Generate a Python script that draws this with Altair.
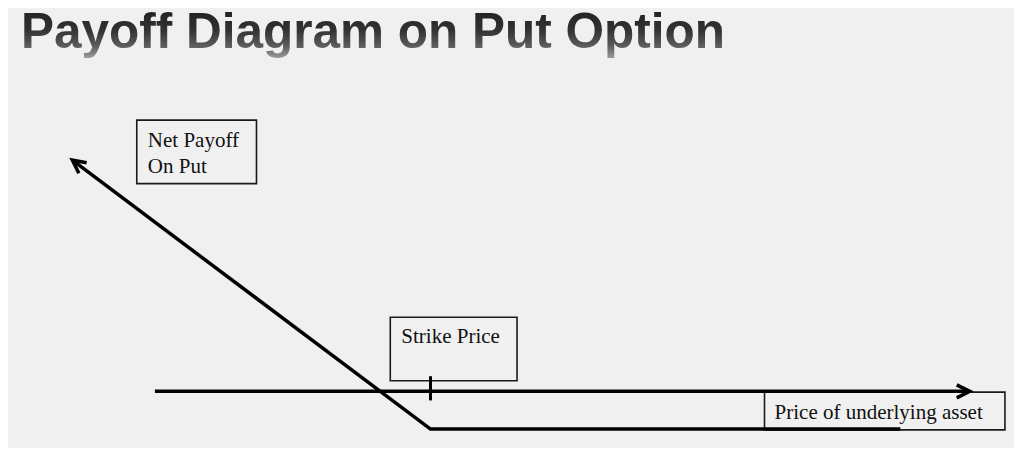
import altair as alt
import pandas as pd

# Net payoff on the put: vertices (price of underlying, net payoff)
price = [6.4, 42.0, 88.7]
net_payoff = [30.6, -5.0, -5.0]

# horizontal price axis (payoff = 0)
axis_price = [14.6, 95.6]
axis_payoff = [0.0, 0.0]

# strike price marker
strike = [42.0]
strike_top = [2.0]
strike_bottom = [-1.2]

# annotation labels and their boxes (in price / payoff units)
label_text = ["Net Payoff\nOn Put", "Strike Price", "Price of underlying asset"]
label_price = [13.9, 39.1, 76.2]
label_payoff = [32.4, 6.4, -3.6]
box_price = [12.8, 38.0, 75.2]
box_price2 = [24.7, 50.6, 99.1]
box_payoff = [35.9, 9.8, -0.1]
box_payoff2 = [27.5, 1.4, -5.1]

title_text = ["Payoff Diagram on Put Option"]

X_DOMAIN = [0, 100]
Y_DOMAIN = [-7.5, 42.8]


def xenc(field="price"):
    return alt.X(f"{field}:Q", scale=alt.Scale(domain=X_DOMAIN, nice=False, zero=False), axis=None)


def yenc(field="payoff"):
    return alt.Y(f"{field}:Q", scale=alt.Scale(domain=Y_DOMAIN, nice=False, zero=False), axis=None)


payoff_df = pd.DataFrame({"price": price, "payoff": net_payoff})
axis_df = pd.DataFrame({"price": axis_price, "payoff": axis_payoff})
strike_df = pd.DataFrame({"price": strike, "payoff": strike_top, "payoff2": strike_bottom})
labels_df = pd.DataFrame({"text": label_text, "price": label_price, "payoff": label_payoff})
boxes_df = pd.DataFrame({"price": box_price, "price2": box_price2,
                         "payoff": box_payoff, "payoff2": box_payoff2})
title_df = pd.DataFrame({"text": title_text})

arrow_path = "M-1,-0.5L0,0L-1,0.5"

boxes = alt.Chart(boxes_df).mark_rect(
    filled=False, stroke="#1a1a1a", strokeWidth=1.6
).encode(x=xenc(), x2="price2:Q", y=yenc(), y2="payoff2:Q")

payoff_line = alt.Chart(payoff_df).mark_line(
    color="#000000", strokeWidth=3.5, strokeJoin="miter"
).encode(x=xenc(), y=yenc(), order="price:Q")

axis_line = alt.Chart(axis_df).mark_line(
    color="#000000", strokeWidth=3.5
).encode(x=xenc(), y=yenc())

strike_tick = alt.Chart(strike_df).mark_rule(
    color="#000000", strokeWidth=3
).encode(x=xenc(), y=yenc(), y2="payoff2:Q")

arrow_payoff = alt.Chart(payoff_df.iloc[[0]]).mark_point(
    shape=arrow_path, size=676, angle=217, filled=False,
    stroke="#000000", strokeWidth=3.5, opacity=1, strokeJoin="miter"
).encode(x=xenc(), y=yenc())

arrow_axis = alt.Chart(axis_df.iloc[[1]]).mark_point(
    shape=arrow_path, size=676, angle=0, filled=False,
    stroke="#000000", strokeWidth=3.5, opacity=1, strokeJoin="miter"
).encode(x=xenc(), y=yenc())

labels = alt.Chart(labels_df).mark_text(
    align="left", baseline="alphabetic", font="Liberation Serif", fontSize=21,
    lineBreak="\n", lineHeight=26, color="#111111"
).encode(x=xenc(), y=yenc(), text="text:N")

title_fill = alt.LinearGradient(
    gradient="linear", x1=0, x2=0, y1=0, y2=1,
    stops=[alt.GradientStop(color="#1c1c1c", offset=0),
           alt.GradientStop(color="#333333", offset=0.5),
           alt.GradientStop(color="#5c5c5c", offset=0.78),
           alt.GradientStop(color="#9a9a9a", offset=1)],
)

title = alt.Chart(title_df).mark_text(
    align="left", baseline="alphabetic", font="Liberation Sans", fontSize=49.5,
    fontWeight="bold", fill=title_fill
).encode(x=alt.value(13), y=alt.value(-20), text="text:N")

chart = alt.layer(
    boxes, payoff_line, axis_line, strike_tick, arrow_payoff, arrow_axis, labels, title
).properties(
    width=1006,
    height=380,
    autosize="none",
    padding={"left": 0, "top": 60, "right": 0, "bottom": 0},
    background="#f0f0f0",
).configure_view(stroke=None)

chart.save("out.html", embed_options={"renderer": "svg", "actions": False})
